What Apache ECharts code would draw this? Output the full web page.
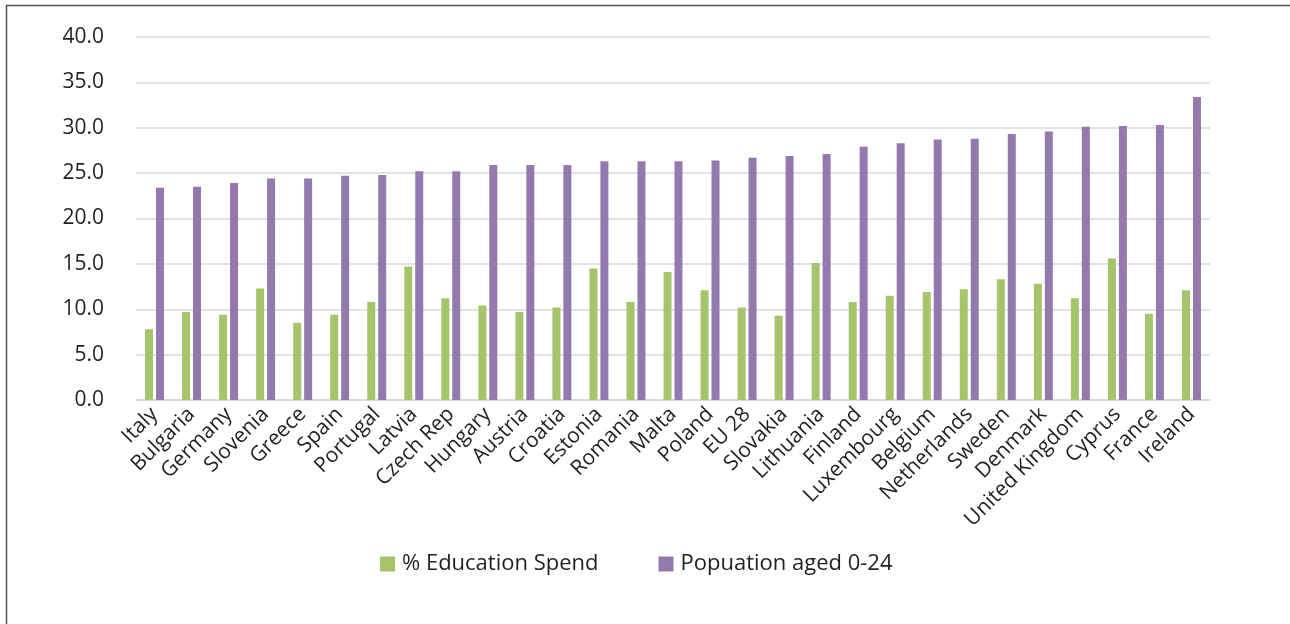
<!DOCTYPE html>
<html>
<head>
<meta charset="utf-8">
<script src="https://cdn.jsdelivr.net/npm/echarts@6/dist/echarts.min.js"></script>
<style>
html,body{margin:0;padding:0;background:#fff;}
#chart{width:1290px;height:624px;}
</style>
</head>
<body>
<div id="chart"></div>
<script>
const categories = ["Italy","Bulgaria","Germany","Slovenia","Greece","Spain","Portugal","Latvia","Czech Rep","Hungary","Austria","Croatia","Estonia","Romania","Malta","Poland","EU 28","Slovakia","Lithuania","Finland","Luxembourg","Belgium","Netherlands","Sweden","Denmark","United Kingdom","Cyprus","France","Ireland"];
const educationSpend = [7.8,9.7,9.4,12.3,8.5,9.4,10.8,14.7,11.2,10.4,9.7,10.2,14.5,10.8,14.1,12.1,10.2,9.3,15.1,10.8,11.5,11.9,12.2,13.3,12.8,11.2,15.6,9.5,12.1];
const population0to24 = [23.4,23.5,23.9,24.4,24.4,24.7,24.8,25.2,25.2,25.9,25.9,25.9,26.3,26.3,26.3,26.4,26.7,26.9,27.1,27.9,28.3,28.7,28.8,29.3,29.6,30.1,30.2,30.3,33.4];
const seriesNames = ["% Education Spend","Popuation aged 0-24"];

const font = "'Open Sans', 'Noto Sans', sans-serif";
const chart = echarts.init(document.getElementById('chart'), null, {renderer:'canvas'});
chart.setOption({
  animation:false,
  backgroundColor:'#fff',
  graphic:[{type:'rect', shape:{x:6.5,y:5.5,width:1400,height:700}, style:{fill:'none', stroke:'#555', lineWidth:1.5}, silent:true}],
  grid:{left:136,right:80,top:37,bottom:224,containLabel:false},
  legend:{
    data:seriesNames, left:375, top:548, itemWidth:15, itemHeight:15, itemGap:60,
    icon:'rect',
    textStyle:{fontFamily:font,fontSize:22,color:'#231f20',padding:[0,0,0,2]}
  },
  xAxis:{
    type:'category', data:categories,
    axisLine:{lineStyle:{color:'#d9d9d9',width:2}},
    axisTick:{show:false},
    axisLabel:{interval:0, rotate:45, fontFamily:font, fontSize:21, color:'#231f20', margin:11}
  },
  yAxis:{
    type:'value', min:0, max:40, interval:5,
    axisLine:{show:false}, axisTick:{show:false},
    splitLine:{lineStyle:{color:'#d9d9d9',width:1.5}},
    axisLabel:{formatter:v=>v.toFixed(1), fontFamily:font, fontSize:21, color:'#231f20', margin:32}
  },
  series:[
    {name:seriesNames[0], type:'bar', data:educationSpend, barWidth:8, barGap:'37%', itemStyle:{color:'#a6c46a'}},
    {name:seriesNames[1], type:'bar', data:population0to24, barWidth:8, barGap:'37%', itemStyle:{color:'#9479ae'}}
  ]
});
</script>
</body>
</html>
